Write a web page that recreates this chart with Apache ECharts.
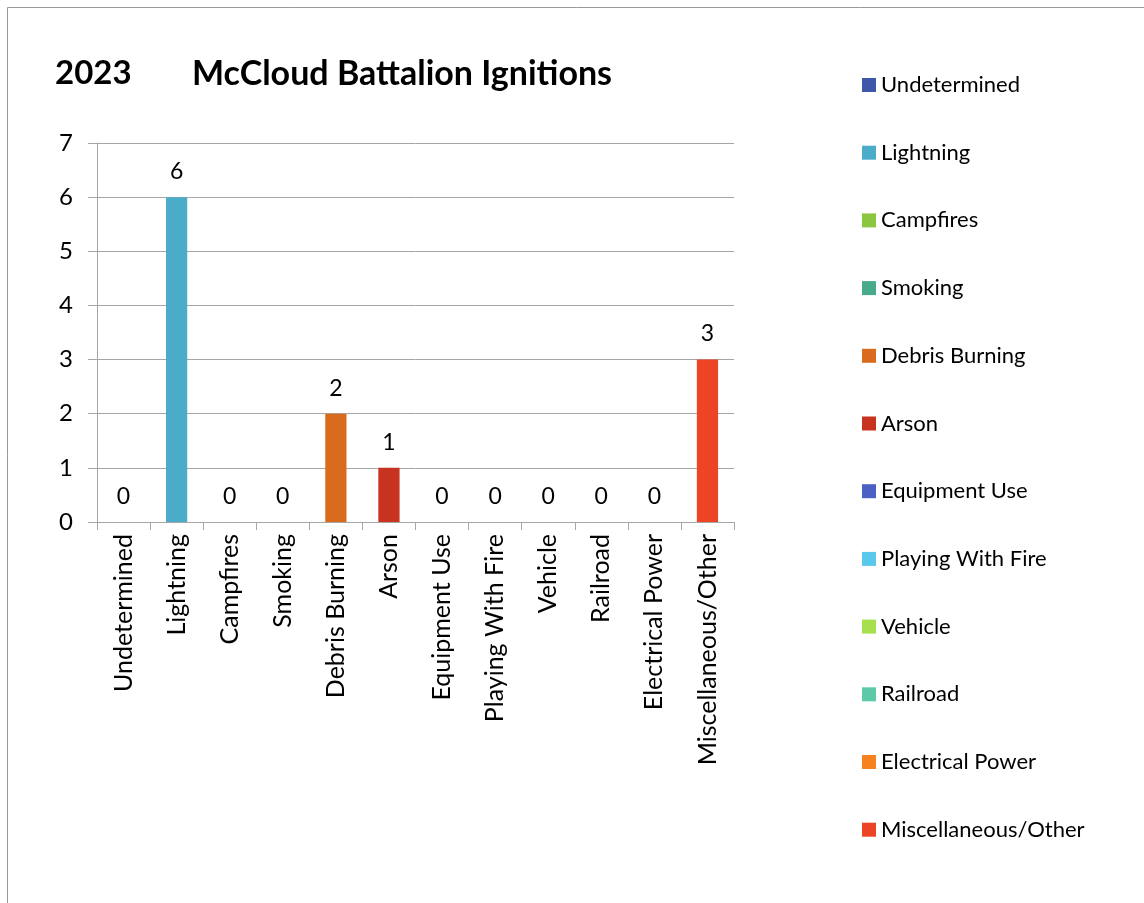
<!DOCTYPE html>
<html>
<head>
<meta charset="utf-8">
<script src="https://cdn.jsdelivr.net/npm/echarts@6/dist/echarts.min.js"></script>
<style>
  html, body { margin: 0; padding: 0; background: #fff; }
  #main { width: 1144px; height: 903px; }
</style>
</head>
<body>
<div id="main"></div>
<script>
// categories and counts
var categories = ['Undetermined', 'Lightning', 'Campfires', 'Smoking', 'Debris Burning', 'Arson',
  'Equipment Use', 'Playing With Fire', 'Vehicle', 'Railroad', 'Electrical Power', 'Miscellaneous/Other'];
var ignitions = [0, 6, 0, 0, 2, 1, 0, 0, 0, 0, 0, 3];
var colors = ['#3f57a8', '#4bacc9', '#8cc540', '#48a98b', '#d96b1e', '#c8331f',
  '#4a60c4', '#5ac8ec', '#a6e04c', '#5ccaa8', '#f5821f', '#ee4426'];
var yTicks = [0, 1, 2, 3, 4, 5, 6, 7];

var FONT = 'Lato';

var chart = echarts.init(document.getElementById('main'));

// one series per category so the legend lists every cause
var series = [];
for (var i = 0; i < categories.length; i++) {
  var d = [];
  for (var j = 0; j < categories.length; j++) {
    d.push(j == i ? ignitions[i] : '-');
  }
  series.push({
    name: categories[i],
    type: 'bar',
    stack: 'all',
    barWidth: '40%',
    data: d,
    itemStyle: { color: colors[i] },
    label: {
      show: true,
      position: 'top',
      distance: 14,
      color: '#000',
      fontFamily: FONT,
      fontSize: 23
    }
  });
}

var option = {
  animation: false,
  backgroundColor: '#fff',
  textStyle: { fontFamily: FONT },
  title: [
    { text: '2023', left: 50, top: 52, textStyle: { fontFamily: FONT, fontSize: 33, fontWeight: 'bold', color: '#000' } },
    { text: 'McCloud Battalion Ignitions', left: 187, top: 52, textStyle: { fontFamily: FONT, fontSize: 34, fontWeight: 'bold', color: '#000' } }
  ],
  graphic: [{
    type: 'rect',
    shape: { x: 7.5, y: 7.5, width: 1150, height: 910 },
    style: { fill: 'none', stroke: '#999', lineWidth: 1 },
    silent: true
  }],
  legend: {
    orient: 'vertical',
    left: 857,
    top: 69,
    itemWidth: 14,
    itemHeight: 14,
    itemGap: 45.7,
    icon: 'rect',
    textStyle: { fontFamily: FONT, fontSize: 22, color: '#000' },
    data: categories
  },
  grid: { left: 97, top: 143, right: 410, bottom: 381 },
  xAxis: {
    type: 'category',
    data: categories,
    axisLine: { lineStyle: { color: '#a6a6a6' } },
    axisTick: { show: true, length: 8, lineStyle: { color: '#a6a6a6' } },
    axisLabel: { rotate: 90, margin: 12, color: '#000', fontFamily: FONT, fontSize: 25, interval: 0 }
  },
  yAxis: {
    type: 'value',
    min: yTicks[0],
    max: yTicks[yTicks.length - 1],
    interval: 1,
    axisLine: { show: true, lineStyle: { color: '#a6a6a6' } },
    axisTick: { show: true, length: 9, lineStyle: { color: '#a6a6a6' } },
    axisLabel: { margin: 24, color: '#000', fontFamily: FONT, fontSize: 24 },
    splitLine: { lineStyle: { color: '#a6a6a6' } }
  },
  series: series
};

chart.setOption(option);
</script>
</body>
</html>
